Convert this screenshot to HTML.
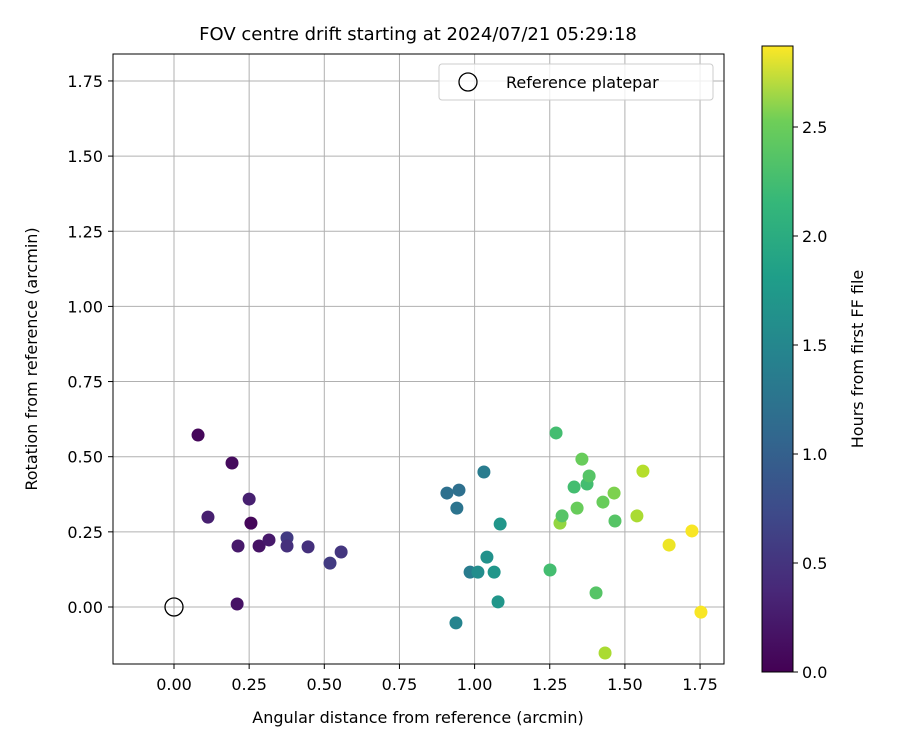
<!DOCTYPE html>
<html><head><meta charset="utf-8"><style>
body{margin:0;background:#fff;font-family:"Liberation Sans","DejaVu Sans",sans-serif}
svg text{font-family:"DejaVu Sans","Liberation Sans",sans-serif}
</style></head><body>
<svg id="chart" width="900" height="750" xmlns="http://www.w3.org/2000/svg">
<defs><linearGradient id="vir" x1="0" y1="1" x2="0" y2="0">
<stop offset="0" stop-color="#440154"/><stop offset="0.13" stop-color="#482878"/><stop offset="0.25" stop-color="#3e4989"/><stop offset="0.38" stop-color="#31688e"/><stop offset="0.5" stop-color="#26828e"/><stop offset="0.63" stop-color="#1f9e89"/><stop offset="0.75" stop-color="#35b779"/><stop offset="0.88" stop-color="#6ece58"/><stop offset="1" stop-color="#fde725"/></linearGradient></defs>
<g id="grid"></g>
<g id="points"></g>
<rect x="113" y="54" width="611" height="610" fill="none" stroke="#000" stroke-width="1"/>
<g id="ticks"></g>
<text x="418" y="40" font-size="18" text-anchor="middle">FOV centre drift starting at 2024/07/21 05:29:18</text>
<text x="418" y="723" font-size="16" text-anchor="middle">Angular distance from reference (arcmin)</text>
<text x="37" y="359" font-size="16" text-anchor="middle" transform="rotate(-90 37 359)">Rotation from reference (arcmin)</text>
<g>
<rect x="439" y="64" width="274" height="36" rx="3" fill="#fff" fill-opacity="0.8" stroke="#ccc"/>
<circle cx="468" cy="82" r="9" fill="none" stroke="#000" stroke-width="1.3"/>
<text x="506" y="88" font-size="16">Reference platepar</text></g>
<rect x="762" y="46" width="31" height="626" fill="url(#vir)" stroke="#000"/>
<g id="cbticks"></g>
<text x="863" y="359" font-size="16" text-anchor="middle" transform="rotate(-90 863 359)">Hours from first FF file</text>
</svg>
<script>
const xs=[0.080,0.193,0.113,0.250,0.256,0.210,0.213,0.283,0.316,0.376,0.376,0.446,0.519,0.556,0.908,0.948,0.941,1.031,1.085,0.985,1.011,1.041,1.065,1.078,0.938,1.271,1.357,1.331,1.374,1.381,1.341,1.427,1.464,1.467,1.284,1.291,1.251,1.404,1.434,1.560,1.540,1.647,1.723,1.753];
const ys=[0.572,0.479,0.299,0.359,0.279,0.010,0.203,0.203,0.223,0.230,0.203,0.200,0.146,0.183,0.379,0.389,0.329,0.449,0.276,0.116,0.116,0.166,0.116,0.017,-0.053,0.579,0.492,0.399,0.409,0.436,0.329,0.349,0.379,0.286,0.279,0.303,0.123,0.047,-0.153,0.452,0.303,0.206,0.253,-0.017];
const hours=[0.05,0.08,0.25,0.25,0.05,0.15,0.2,0.15,0.2,0.5,0.4,0.4,0.5,0.45,1.05,1.05,1.1,1.2,1.5,1.2,1.4,1.45,1.5,1.5,1.3,2.0,2.2,2.0,2.0,2.1,2.2,2.2,2.3,2.1,2.4,2.1,2.0,2.1,2.5,2.55,2.5,2.8,2.85,2.85];
const xTicks=[0,0.25,0.5,0.75,1,1.25,1.5,1.75];
const yTicks=[0,0.25,0.5,0.75,1,1.25,1.5,1.75];
const cTicks=[0,0.5,1,1.5,2,2.5];
const NS="http://www.w3.org/2000/svg";
const X=v=>174+v*300.6, Y=v=>607-v*300.6, C=v=>672-v*218;
const stops=[[68,1,84],[72,40,120],[62,73,137],[49,104,142],[38,130,142],[31,158,137],[53,183,121],[110,206,88],[181,222,43],[253,231,37]];
function vir(t){t=Math.max(0,Math.min(1,t))*(stops.length-1);const i=Math.min(Math.floor(t),stops.length-2),f=t-i;const a=stops[i],b=stops[i+1];return `rgb(${a.map((v,k)=>Math.round(v+(b[k]-v)*f)).join(',')})`;}
function mk(tag,at,parent){const e=document.createElementNS(NS,tag);for(const k in at)e.setAttribute(k,at[k]);document.getElementById(parent).appendChild(e);return e;}
xTicks.forEach(t=>{const l=mk('line',{x1:X(t),x2:X(t),y1:54,y2:664,stroke:'#b0b0b0','stroke-width':1},'grid');


const tk=mk('line',{x1:X(t),x2:X(t),y1:664,y2:669,stroke:'#000'},'ticks');


const tx=mk('text',{x:X(t),y:690,'font-size':16,'text-anchor':'middle'},'ticks');tx.textContent=t.toFixed(2);

});
yTicks.forEach(t=>{const l=mk('line',{x1:113,x2:724,y1:Y(t),y2:Y(t),stroke:'#b0b0b0','stroke-width':1},'grid');


const tk=mk('line',{x1:108,x2:113,y1:Y(t),y2:Y(t),stroke:'#000'},'ticks');


const tx=mk('text',{x:103,y:Y(t)+6,'font-size':16,'text-anchor':'end'},'ticks');tx.textContent=t.toFixed(2);

});
cTicks.forEach(t=>{const tk=mk('line',{x1:793,x2:798,y1:C(t),y2:C(t),stroke:'#000'},'cbticks');


const tx=mk('text',{x:802,y:C(t)+6,'font-size':16},'cbticks');tx.textContent=t.toFixed(1);

});
xs.forEach((x,i)=>{const c=mk('circle',{cx:X(x),cy:Y(ys[i]),r:6.5,fill:vir(hours[i]/2.87)},'points');

});
const ref=mk('circle',{cx:X(0),cy:Y(0),r:9,fill:'none',stroke:'#000','stroke-width':1.3},'points');


</script>
</body></html>
